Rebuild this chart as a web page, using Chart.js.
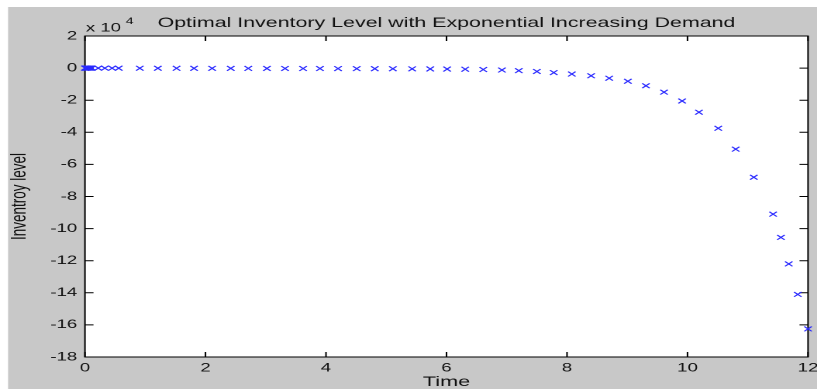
<!DOCTYPE html>
<html>
<head>
<meta charset="utf-8">
<script src="https://cdn.jsdelivr.net/npm/chart.js@4/dist/chart.umd.min.js"></script>
<style>
  html, body { margin: 0; padding: 0; background: #ffffff; overflow: hidden; }
  #wrap { position: absolute; left: 0; top: 0; width: 527px; height: 389px;
          transform: scaleX(1.5503); transform-origin: 0 0; }
</style>
</head>
<body>
<div id="wrap"><canvas id="c" width="527" height="389"></canvas></div>
<script>
// ---- data (inventory in units of 10^4) ----
const timeValues = [0, 0.005, 0.01, 0.02, 0.03, 0.04, 0.055, 0.07, 0.085, 0.1, 0.115,
  0.22, 0.33, 0.45, 0.56, 0.91, 1.21, 1.52, 1.81, 2.11, 2.42, 2.71, 3.02, 3.32, 3.62,
  3.9, 4.2, 4.51, 4.81, 5.11, 5.43, 5.73, 6.01, 6.31, 6.61, 6.92, 7.2, 7.5, 7.78, 8.08,
  8.4, 8.7, 9.01, 9.31, 9.61, 9.91, 10.19, 10.51, 10.8, 11.1, 11.42, 11.55, 11.68, 11.83, 12.0];
const inventoryValues = [0, 0, 0, 0, 0, 0, 0, 0, -0.001, -0.001, -0.001,
  -0.002, -0.003, -0.004, -0.005, -0.007, -0.009, -0.011, -0.013, -0.015, -0.017, -0.019, -0.021, -0.023, -0.026,
  -0.028, -0.031, -0.034, -0.037, -0.041, -0.046, -0.052, -0.06, -0.07, -0.09, -0.12, -0.16, -0.21, -0.28, -0.37,
  -0.48, -0.63, -0.82, -1.1, -1.5, -2.05, -2.75, -3.75, -5.05, -6.8, -9.1, -10.55, -12.2, -14.1, -16.25];
const xTickValues = [0, 2, 4, 6, 8, 10, 12];
const yTickValues = [2, 0, -2, -4, -6, -8, -10, -12, -14, -16, -18];
const yExponent = '4';
const chartTitle = 'Optimal Inventory Level with Exponential Increasing Demand';
const xTitle = 'Time';
const yTitle = 'Inventroy level';

const FONT = "'Liberation Sans', Arial, Helvetica, sans-serif";

const framePlugin = {
  id: 'frame',
  beforeDraw(chart) {
    const ctx = chart.ctx, a = chart.chartArea;
    ctx.save();
    ctx.fillStyle = '#ffffff';
    ctx.fillRect(0, 0, chart.width, chart.height);
    ctx.fillStyle = '#c8c8c8';
    ctx.fillRect(5.2, 7, chart.width - 5.2, chart.height - 7);
    ctx.fillStyle = '#ffffff';
    ctx.fillRect(a.left, a.top, a.right - a.left, a.bottom - a.top);
    ctx.restore();
  },
  beforeDatasetsDraw(chart) {
    const ctx = chart.ctx, a = chart.chartArea;
    const xs = chart.scales.x, ys = chart.scales.y;
    ctx.save();
    ctx.strokeStyle = '#000000';
    ctx.lineWidth = 1;
    ctx.beginPath();
    xs.ticks.forEach(t => {
      const px = xs.getPixelForValue(t.value);
      ctx.moveTo(px, a.bottom); ctx.lineTo(px, a.bottom - 5);
      ctx.moveTo(px, a.top); ctx.lineTo(px, a.top + 5);
    });
    ys.ticks.forEach(t => {
      const py = ys.getPixelForValue(t.value);
      ctx.moveTo(a.left, py); ctx.lineTo(a.left + 5.5, py);
      ctx.moveTo(a.right, py); ctx.lineTo(a.right - 5.5, py);
    });
    ctx.stroke();
    ctx.strokeRect(a.left, a.top, a.right - a.left, a.bottom - a.top);
    // exponent label
    ctx.fillStyle = '#111111';
    ctx.textBaseline = 'alphabetic';
    ctx.font = '12px ' + FONT;
    const base = 'x 10';
    ctx.fillText(base, a.left + 0.6, 31.5);
    const w = ctx.measureText(base).width;
    ctx.font = '9px ' + FONT;
    ctx.fillText(yExponent, a.left + 0.6 + w + 3, 24);
    ctx.restore();
  }
};

new Chart(document.getElementById('c'), {
  type: 'scatter',
  data: {
    datasets: [{
      data: timeValues.map((t, i) => ({ x: t, y: inventoryValues[i] })),
      pointStyle: 'crossRot',
      pointRadius: 3.4,
      pointHoverRadius: 3.4,
      pointBorderWidth: 1,
      borderColor: '#2a2aff',
      backgroundColor: '#2a2aff',
      showLine: false,
      clip: false
    }]
  },
  options: {
    responsive: false,
    devicePixelRatio: 2,
    animation: false,
    events: [],
    layout: { padding: { top: 7, left: 0, right: 5.8, bottom: 0 } },
    plugins: {
      legend: { display: false },
      tooltip: { enabled: false },
      title: {
        display: true,
        text: chartTitle,
        fullSize: false,
        color: '#111111',
        font: { family: FONT, size: 13.8, weight: 'normal', lineHeight: 1.2 },
        padding: { top: 8.1, bottom: 4.34 }
      }
    },
    scales: {
      x: {
        type: 'linear',
        min: 0, max: 12,
        afterBuildTicks: s => { s.ticks = xTickValues.map(v => ({ value: v })); },
        afterFit: s => { s.height = 32; s.paddingLeft = 0; s.paddingRight = 0; s.paddingTop = 0; s.paddingBottom = 0; },
        grid: { display: false, drawTicks: false },
        border: { display: false },
        ticks: { color: '#111111', padding: 4, maxRotation: 0, autoSkip: false,
                 font: { family: FONT, size: 12 } },
        title: { display: true, text: xTitle, color: '#111111',
                 font: { family: FONT, size: 14, lineHeight: 1.0 },
                 padding: { top: 0, bottom: 0 } }
      },
      y: {
        type: 'linear',
        min: -18, max: 2,
        afterBuildTicks: s => { s.ticks = yTickValues.map(v => ({ value: v })); },
        afterFit: s => { s.width = 54.8; s.paddingLeft = 0; s.paddingRight = 0; s.paddingTop = 0; s.paddingBottom = 0; },
        grid: { display: false, drawTicks: false },
        border: { display: false },
        ticks: { color: '#111111', padding: 5, autoSkip: false,
                 font: { family: FONT, size: 12 } },
        title: { display: true, text: yTitle, color: '#111111',
                 font: { family: FONT, size: 13.5, lineHeight: 1.2 },
                 padding: { top: 4.8, bottom: 0 } }
      }
    }
  },
  plugins: [framePlugin]
});
</script>
</body>
</html>
